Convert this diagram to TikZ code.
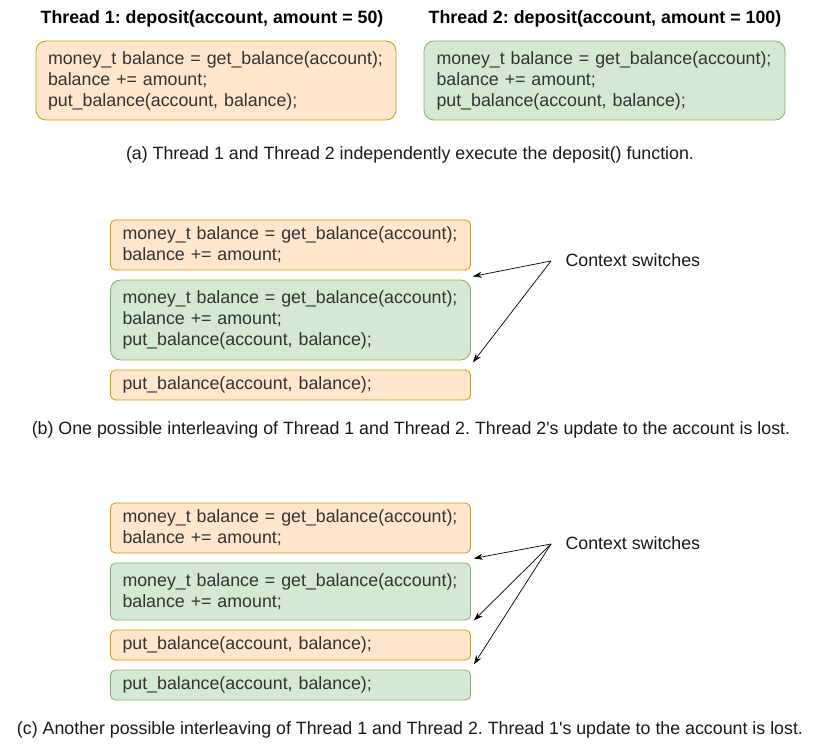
\documentclass[tikz,border=0pt]{standalone}
\usepackage{fontspec}
\setmainfont{Liberation Sans}
\usetikzlibrary{arrows.meta}
\definecolor{ofill}{HTML}{FFE6CC}
\definecolor{odraw}{HTML}{D79B00}
\definecolor{gfill}{HTML}{D5E8D4}
\definecolor{gdraw}{HTML}{82B366}
\definecolor{txt}{HTML}{333333}
\frenchspacing
\begin{document}
\begin{tikzpicture}[x=1pt,y=-1pt,
  code/.style={rectangle, align=left, inner xsep=12pt, inner ysep=0pt, text width=336pt,
    minimum width=360pt, text=txt, font=\fontsize{17.8}{21}\selectfont, line width=0.8pt},
  obox/.style={code, fill=ofill, draw=odraw},
  gbox/.style={code, fill=gfill, draw=gdraw},
  big/.style={rounded corners=10pt},
  small/.style={rounded corners=5pt},
  title/.style={font=\bfseries\fontsize{17.8}{20}\selectfont, text=black},
  captext/.style={font=\fontsize{17.8}{20}\selectfont, text=black!90},
  lbl/.style={font=\fontsize{17.8}{20}\selectfont, text=black!90, anchor=west},
  arr/.style={-{Stealth[length=9pt,width=6pt]}, line width=0.7pt}
]
\useasboundingbox (0,0) rectangle (821,751);

% (a)
\node[title] (t1) at (212,19) {Thread 1: deposit(account, amount = 50)};
\node[title] (t2) at (605,19) {Thread 2: deposit(account, amount = 100)};
\node[obox,big,minimum height=79pt] (a1) at (216,80.5)
  {money\_t balance = get\_balance(account);\\balance += amount;\\put\_balance(account, balance);};
\node[gbox,big,minimum height=79pt,minimum width=361pt] (a2) at (604.5,80.5)
  {money\_t balance = get\_balance(account);\\balance += amount;\\put\_balance(account, balance);};
\node[captext] (capa) at (410,155) {(a) Thread 1 and Thread 2 independently execute the deposit() function.};

% (b)
\node[obox,small,minimum height=50pt] (b1) at (290.5,245)
  {money\_t balance = get\_balance(account);\\balance += amount;};
\node[gbox,big,minimum height=80pt] (b2) at (290.5,320)
  {money\_t balance = get\_balance(account);\\balance += amount;\\put\_balance(account, balance);};
\node[obox,small,minimum height=30pt] (b3) at (290.5,385)
  {put\_balance(account, balance);};
\node[lbl] (csb) at (562,260) {Context switches};
\coordinate (srcb) at (551,261);
\draw[arr] (srcb) -- ([xshift=2pt,yshift=-6pt]b1.south east);
\draw[arr] (srcb) -- ([xshift=2pt,yshift=-2pt]b2.south east);
\node[captext] (capb) at (411,430) {(b) One possible interleaving of Thread 1 and Thread 2. Thread 2\textquotesingle s update to the account is lost.};

% (c)
\node[obox,small,minimum height=50pt] (c1) at (290.5,528)
  {money\_t balance = get\_balance(account);\\balance += amount;};
\node[gbox,small,minimum height=57pt] (c2) at (290.5,591.5)
  {money\_t balance = get\_balance(account);\\balance += amount;};
\node[obox,small,minimum height=30pt] (c3) at (290.5,645)
  {put\_balance(account, balance);};
\node[gbox,small,minimum height=30pt] (c4) at (290.5,685)
  {put\_balance(account, balance);};
\node[lbl] (csc) at (562,543) {Context switches};
\coordinate (srcc) at (551,544);
\draw[arr] (srcc) -- ([xshift=3pt,yshift=-5pt]c1.south east);
\draw[arr] (srcc) -- ([xshift=3pt,yshift=0pt]c2.south east);
\draw[arr] (srcc) -- ([xshift=3pt,yshift=-4pt]c3.south east);
\node[captext] (capc) at (410,730) {(c) Another possible interleaving of Thread 1 and Thread 2. Thread 1\textquotesingle s update to the account is lost.};
\end{tikzpicture}
\end{document}
